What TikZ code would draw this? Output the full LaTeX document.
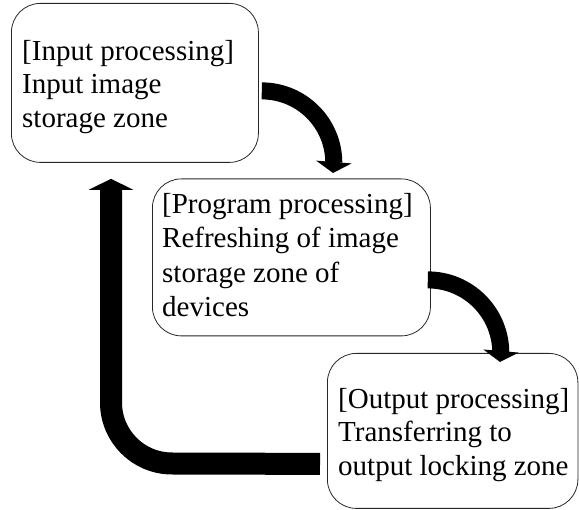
\documentclass[tikz,border=0pt]{standalone}
\usepackage{fontspec}
\setmainfont{Liberation Serif}
\usetikzlibrary{arrows.meta,calc}
\tikzset{
  pbox/.style={draw=black!85, line width=0.8pt, rounded corners=29pt, inner sep=0pt, anchor=north west},
  txt/.style={inner sep=0pt, anchor=north west, align=left, font=\fontsize{29}{33.5}\selectfont},
  txtb/.style={inner sep=0pt, anchor=north west, align=left, font=\fontsize{29}{34.5}\selectfont},
  flow/.style={line width=17pt, draw=black, -{Triangle[width=35pt,length=11pt]}},
  flowb/.style={line width=22pt, draw=black, -{Triangle[width=44pt,length=11pt]}}
}
\begin{document}
\begin{tikzpicture}[x=1pt,y=-1pt]
\useasboundingbox (0,0) rectangle (579,510);
% boxes
\node[pbox, minimum width=247pt, minimum height=159pt] (box1) at (11,3) {};
\node[pbox, minimum width=278pt, minimum height=157pt] (box2) at (152,178.5) {};
\node[pbox, minimum width=250.5pt, minimum height=155pt] (box3) at (327,353) {};
% texts
\node[txt] (t1) at (22,36.55) {\strut[Input processing]\\Input image\\storage zone};
\node[txtb] (t2) at (162,188.85) {\strut[Program processing]\\Refreshing of image\\storage zone of\\devices};
\node[txt] (t3) at (338,384.55) {\strut[Output processing]\\Transferring to\\output locking zone};
% connectors
\draw[flow] ($(box1.east)+(3,8)$) arc[start angle=270, end angle=360, radius=72]
  -- ($(box2.north west)+(181,-5.5)$);
\draw[flow] ($(box2.east)+(-3,22.5)$) arc[start angle=270, end angle=360, radius=73]
  -- ($(box3.north west)+(173,9)$);
\draw[flowb] ($(box3.west)+(-7,33)$) -- (172,463.5)
  arc[start angle=90, end angle=180, radius=61]
  -- ($(box1.south west)+(100,16)$);
\end{tikzpicture}
\end{document}
